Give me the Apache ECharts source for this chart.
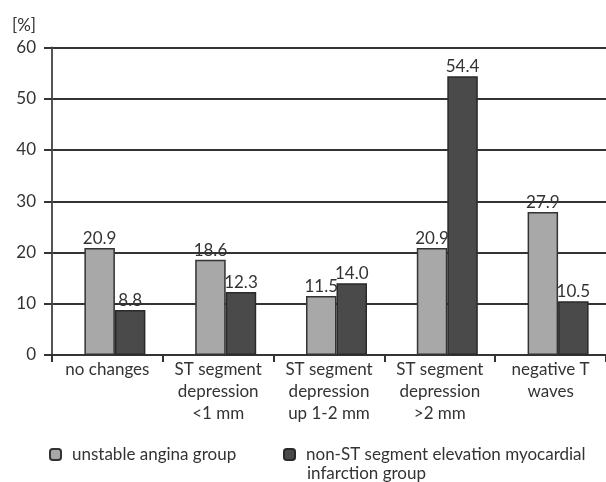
<!DOCTYPE html>
<html><head><meta charset="utf-8">
<script src="https://cdn.jsdelivr.net/npm/echarts@6/dist/echarts.min.js"></script>
<style>html,body{margin:0;padding:0;background:#fff}#c{width:606px;height:482px}</style>
</head><body><div id="c"></div>
<script>
const categories = ['no changes', 'ST segment\ndepression\n<1 mm', 'ST segment\ndepression\nup 1-2 mm', 'ST segment\ndepression\n>2 mm', 'negative T\nwaves'];
const seriesNames = ['unstable angina group', 'non-ST segment elevation myocardial'];
const unstableAngina = [20.9, 18.6, 11.5, 20.9, 27.9];
const nstemi = [8.8, 12.3, 14.0, 54.4, 10.5];
const yTicks = {min: 0, max: 60, interval: 10};
const unitLabel = '[%]';
const legendContinuation = 'infarction group';

const FONT = 'Lato';
const FS = 17;
const TXT = '#333';
const chart = echarts.init(document.getElementById('c'), null, {renderer: 'canvas'});
const labelCfg = {show: true, position: 'top', distance: 1, color: TXT, fontFamily: FONT, fontSize: FS,
  formatter: p => p.value.toFixed(1)};
chart.setOption({
  animation: false,
  textStyle: {fontFamily: FONT},
  grid: {left: 52, right: -5, top: 47.5, bottom: 127, containLabel: false},
  legend: [
    {data: [seriesNames[0]], left: 44, top: 441, itemWidth: 11, itemHeight: 11, itemGap: 8,
     textStyle: {color: TXT, fontFamily: FONT, fontSize: FS, padding: [0, 0, 0, 6]}},
    {data: [seriesNames[1]], left: 278, top: 441, itemWidth: 11, itemHeight: 11,
     textStyle: {color: TXT, fontFamily: FONT, fontSize: FS, padding: [0, 0, 0, 6]}}
  ],
  graphic: [
    {type: 'text', left: 307, top: 465, style: {text: legendContinuation, fill: TXT, font: FS + 'px Lato'}},
    {type: 'text', left: 12, top: 17, style: {text: unitLabel, fill: TXT, font: FS + 'px Lato'}}
  ],
  xAxis: {
    type: 'category', data: categories,
    axisLine: {lineStyle: {color: '#333', width: 2}},
    axisTick: {show: true, length: 7, lineStyle: {color: '#333', width: 2}},
    axisLabel: {color: TXT, fontFamily: FONT, fontSize: FS, lineHeight: 22, margin: 4, interval: 0}
  },
  yAxis: {
    type: 'value', min: yTicks.min, max: yTicks.max, interval: yTicks.interval,
    axisLine: {show: true, lineStyle: {color: '#555', width: 2}},
    axisTick: {show: true, length: 8, lineStyle: {color: '#333', width: 2}},
    axisLabel: {color: TXT, fontFamily: FONT, fontSize: FS, margin: 16},
    splitLine: {show: true, lineStyle: {color: '#333', width: 2}}
  },
  series: [
    {name: '_spacer', type: 'bar', data: [], barWidth: 15, barGap: '0%', silent: true},
    {name: seriesNames[0], type: 'bar', data: unstableAngina, barWidth: 30.5, barGap: '0%',
     itemStyle: {color: '#a8a8a8', borderColor: '#333', borderWidth: 1.5}, label: labelCfg},
    {name: seriesNames[1], type: 'bar', data: nstemi, barWidth: 30.5, barGap: '0%',
     itemStyle: {color: '#4a4a4a', borderColor: '#2a2a2a', borderWidth: 1.5}, label: labelCfg}
  ]
});
</script></body></html>
